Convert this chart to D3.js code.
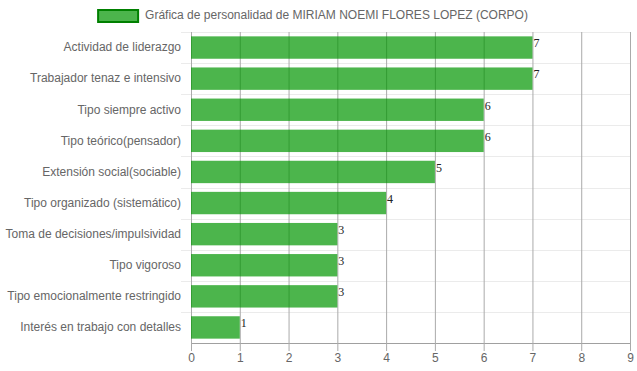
<!DOCTYPE html>
<html>
<head>
<meta charset="utf-8">
<script src="https://cdn.jsdelivr.net/npm/d3@7"></script>
<style>
  body { margin: 0; background: #fff; }
  svg { display: block; }
</style>
</head>
<body>
<svg id="chart"></svg>
<script>
const seriesName = 'Gráfica de personalidad de MIRIAM NOEMI FLORES LOPEZ (CORPO)';
const categories = [
    'Actividad de liderazgo',
    'Trabajador tenaz e intensivo',
    'Tipo siempre activo',
    'Tipo teórico(pensador)',
    'Extensión social(sociable)',
    'Tipo organizado (sistemático)',
    'Toma de decisiones/impulsividad',
    'Tipo vigoroso',
    'Tipo emocionalmente restringido',
    'Interés en trabajo con detalles'
];
const values = [7, 7, 6, 6, 5, 4, 3, 3, 3, 1];
const xTicks = [0, 1, 2, 3, 4, 5, 6, 7, 8, 9];

const width = 637, height = 371,
    margin = { top: 32, right: 7, bottom: 28, left: 191 };

const svg = d3.select('svg#chart')
    .attr('width', width)
    .attr('height', height)
    .style('font-family', '"Liberation Sans", Arial, sans-serif');

const x = d3.scaleLinear()
    .domain([0, 9])
    .range([margin.left, width - margin.right]);

const y = d3.scaleBand()
    .domain(categories)
    .range([margin.top, height - margin.bottom]);

const barH = y.bandwidth() * 0.72,
    barOff = (y.bandwidth() - barH) / 2;

// horizontal grid lines (between categories)
svg.append('g')
    .selectAll('line')
    .data(categories.slice(1).map(c => y(c)).concat([y.range()[0]]))
    .join('line')
    .attr('x1', margin.left - 10)
    .attr('x2', x(9))
    .attr('y1', d => Math.round(d) + 0.5)
    .attr('y2', d => Math.round(d) + 0.5)
    .attr('stroke', '#ebebeb');

// x axis with vertical grid lines
const xAxis = svg.append('g')
    .attr('transform', `translate(0,${height - margin.bottom})`)
    .call(d3.axisBottom(x)
        .tickValues(xTicks)
        .tickSizeInner(-(height - margin.top - margin.bottom))
        .tickSizeOuter(0)
        .tickPadding(10));
xAxis.select('.domain').attr('stroke', '#a0a0a0');
xAxis.selectAll('.tick line')
    .attr('stroke', '#aaaaaa')
    .attr('y2', -(height - margin.top - margin.bottom))
    .attr('y1', 8);
xAxis.selectAll('.tick text')
    .attr('fill', '#666')
    .style('font-size', '12px')
    .style('font-family', '"Liberation Sans", Arial, sans-serif');

// y axis labels
const yAxis = svg.append('g')
    .attr('transform', `translate(${margin.left},0)`)
    .call(d3.axisLeft(y).tickSize(0).tickPadding(10));
yAxis.select('.domain').remove();
yAxis.selectAll('.tick text')
    .attr('fill', '#666')
    .style('font-size', '12px')
    .style('font-family', '"Liberation Sans", Arial, sans-serif');

// bars
svg.append('g')
    .selectAll('rect')
    .data(values)
    .join('rect')
    .attr('x', x(0))
    .attr('y', (d, i) => y(categories[i]) + barOff)
    .attr('width', d => x(d) - x(0))
    .attr('height', barH)
    .attr('fill', 'rgba(0,150,0,0.7)');

// value labels
svg.append('g')
    .selectAll('text')
    .data(values)
    .join('text')
    .attr('x', d => x(d) + 1)
    .attr('y', (d, i) => y(categories[i]) + barOff + 11)
    .attr('fill', '#222')
    .style('font-family', '"Liberation Serif", "Times New Roman", serif')
    .style('font-size', '12px')
    .text(d => d);

// legend
const legend = svg.append('g');
const legendText = legend.append('text')
    .attr('y', 19)
    .attr('fill', '#666')
    .style('font-size', '12px')
    .text(seriesName);
const tw = legendText.node().getComputedTextLength(),
    lx = (width - (40 + 8 + tw)) / 2 - 6;
legendText.attr('x', lx + 48);
legend.append('rect')
    .attr('x', lx + 1)
    .attr('y', 10)
    .attr('width', 40)
    .attr('height', 12)
    .attr('fill', 'rgba(0,150,0,0.7)')
    .attr('stroke', '#008000')
    .attr('stroke-width', 2);
</script>
</body>
</html>
